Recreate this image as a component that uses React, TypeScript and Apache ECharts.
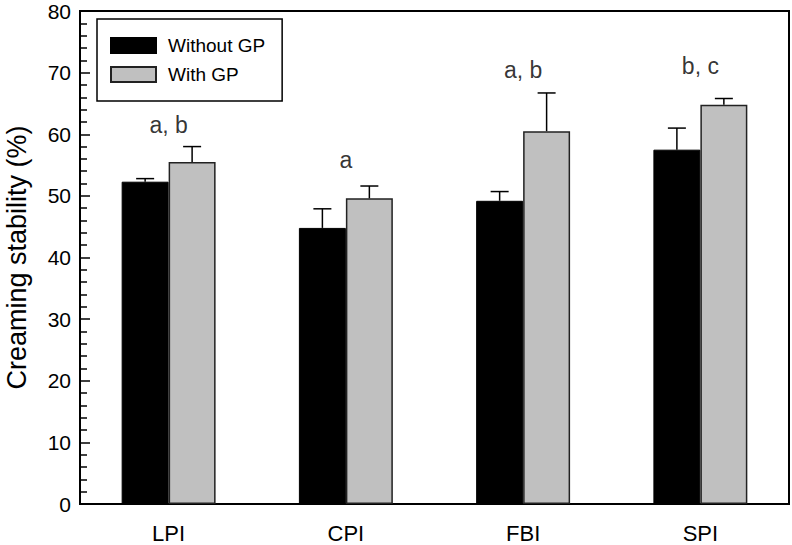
import React, { useEffect, useRef } from "react";
import * as echarts from "echarts";

const categories = ["LPI", "CPI", "FBI", "SPI"];
const seriesNames = ["Without GP", "With GP"];
const withoutGP = [52.3, 44.8, 49.2, 57.5];
const withGP = [55.5, 49.6, 60.5, 64.8];
const withoutGPErr = [0.5, 3.1, 1.5, 3.5];
const withGPErr = [2.5, 2.0, 6.2, 1.0];
const letters = ["a, b", "a", "a, b", "b, c"];
const letterY = [61.5, 55.8, 70.5, 71.1];
const yTicks = [0, 10, 20, 30, 40, 50, 60, 70, 80];

const FONT = "Liberation Sans, Arial, sans-serif";
const BAR_FRAC = 0.265;

export default function App() {
  const ref = useRef<HTMLDivElement>(null);
  useEffect(() => {
    if (!ref.current) return;
    const chart = echarts.init(ref.current, undefined, { renderer: "svg" });

    const errRender = (sign: number) => (params: any, api: any) => {
      const ci = api.value(0);
      const v = api.value(1);
      const e = api.value(2);
      const band = api.size([1, 0])[0];
      const off = (sign * band * BAR_FRAC) / 2;
      const p0 = api.coord([ci, v]);
      const p1 = api.coord([ci, v + e]);
      const x = p0[0] + off;
      const capHalf = 9;
      const style = { stroke: "#000", lineWidth: 1.5 };
      return {
        type: "group",
        children: [
          { type: "line", shape: { x1: x, y1: p0[1], x2: x, y2: p1[1] }, style },
          { type: "line", shape: { x1: x - capHalf, y1: p1[1], x2: x + capHalf, y2: p1[1] }, style },
        ],
      };
    };

    chart.setOption({
      animation: false,
      backgroundColor: "#fff",
      textStyle: { fontFamily: FONT },
      grid: {
        left: 80,
        right: 3,
        top: 11,
        bottom: 41,
        containLabel: false,
        outerBoundsMode: "none",
        show: true,
        borderColor: "#000",
        borderWidth: 2,
        backgroundColor: "transparent",
      },
      legend: {
        left: 97,
        top: 19,
        orient: "vertical",
        data: seriesNames,
        icon: "rect",
        itemWidth: 45,
        itemHeight: 15,
        itemGap: 10,
        padding: [17, 17, 17, 13],
        borderColor: "#000",
        borderWidth: 1.5,
        textStyle: { fontSize: 19, lineHeight: 15, color: "#000", fontFamily: FONT, padding: [0, 0, 0, 7] },
      },
      xAxis: {
        type: "category",
        data: categories,
        axisLine: { lineStyle: { color: "#000", width: 2 } },
        axisTick: { alignWithLabel: true, length: 8, lineStyle: { color: "#000", width: 2 } },
        axisLabel: { fontSize: 22, lineHeight: 22, color: "#000", margin: 18, fontFamily: FONT },
      },
      yAxis: {
        type: "value",
        min: yTicks[0],
        max: yTicks[yTicks.length - 1],
        interval: 10,
        name: "Creaming stability (%)",
        nameLocation: "middle",
        nameGap: 50,
        nameTextStyle: { fontSize: 27, color: "#000", fontFamily: FONT },
        splitLine: { show: false },
        axisLine: { show: true, lineStyle: { color: "#000", width: 2 } },
        axisTick: { show: true, inside: true, length: 10, lineStyle: { color: "#000", width: 1.5 } },
        minorTick: { show: true, splitNumber: 5, length: 7, lineStyle: { color: "#000", width: 1.5 } },
        axisLabel: { fontSize: 21, lineHeight: 14, color: "#000", margin: 9, fontFamily: FONT },
      },
      series: [
        {
          name: seriesNames[0],
          type: "bar",
          data: withoutGP,
          barWidth: (BAR_FRAC * 100).toFixed(1) + "%",
          barGap: "0%",
          itemStyle: { color: "#000", borderColor: "#000", borderWidth: 1 },
        },
        {
          name: seriesNames[1],
          type: "bar",
          data: withGP,
          barWidth: (BAR_FRAC * 100).toFixed(1) + "%",
          barGap: "0%",
          itemStyle: { color: "#c0c0c0", borderColor: "#222", borderWidth: 1.5 },
        },
        {
          type: "custom",
          renderItem: errRender(-1),
          data: withoutGP.map((v, i) => [i, v, withoutGPErr[i]]),
          z: 5,
          silent: true,
        },
        {
          type: "custom",
          renderItem: errRender(1),
          data: withGP.map((v, i) => [i, v, withGPErr[i]]),
          z: 5,
          silent: true,
        },
        {
          type: "scatter",
          symbolSize: 0,
          data: letterY.map((v, i) => [i, v]),
          silent: true,
          label: {
            show: true,
            position: "inside",
            formatter: (p: any) => letters[p.dataIndex],
            fontSize: 23,
            color: "#000",
            fontFamily: FONT,
          },
        },
      ],
    });
    return () => chart.dispose();
  }, []);
  return <div ref={ref} style={{ width: 792, height: 545, position: "absolute", left: 0, top: 0 }} />;
}
